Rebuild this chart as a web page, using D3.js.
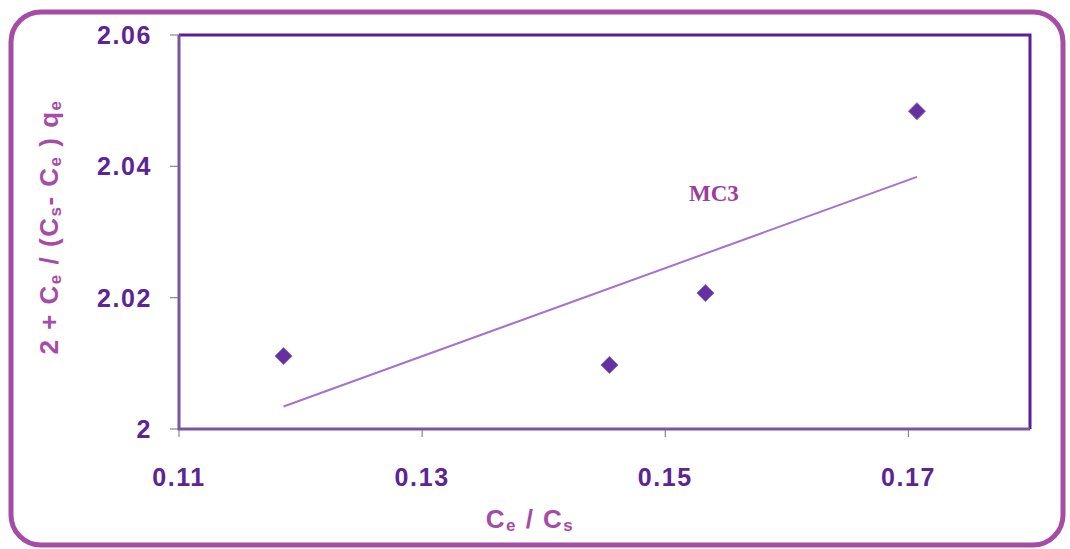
<!DOCTYPE html>
<meta charset="utf-8">
<style>
    body { margin: 0; background: #fff; }
    .tick-label { font-family: Arial, "Liberation Sans", sans-serif; font-weight: bold; font-size: 25px; letter-spacing: 1.6px; fill: #5c2494; }
    .axis-title { font-family: Arial, "Liberation Sans", sans-serif; font-weight: bold; font-size: 26px; letter-spacing: 1.5px; fill: #a64ca6; }
    .series-label { font-family: "Liberation Serif", "Times New Roman", serif; font-weight: bold; font-size: 23px; fill: #9b3d9b; }
</style>
<body>
<script src="https://d3js.org/d3.v7.min.js"></script>
<script>

// Data
var xValues = [0.1186, 0.1454, 0.1533, 0.1707];
var yValues = [2.0111, 2.00975, 2.0207, 2.0484];
var xTicks = [0.11, 0.13, 0.15, 0.17];
var yTicks = [2, 2.02, 2.04, 2.06];
var seriesName = "MC3";

var width = 1070, height = 549;
var plot = {left: 179, top: 35, right: 1030, bottom: 429};

var svg = d3.select("body").append("svg")
    .attr("width", width).attr("height", height);

// outer rounded frame
svg.append("rect")
    .attr("x", 11).attr("y", 12)
    .attr("width", 1052).attr("height", 533)
    .attr("rx", 30).attr("ry", 30)
    .attr("fill", "none")
    .attr("stroke", "#a64ca6")
    .attr("stroke-width", 5);

var x = d3.scaleLinear().domain([0.11, 0.18]).range([plot.left, plot.right]);
var y = d3.scaleLinear().domain([2, 2.06]).range([plot.bottom, plot.top]);

// tick marks
svg.selectAll(".xtick").data(xTicks).enter().append("line")
    .attr("x1", function(d) { return x(d); }).attr("x2", function(d) { return x(d); })
    .attr("y1", plot.bottom).attr("y2", plot.bottom + 8)
    .attr("stroke", "#888").attr("stroke-width", 1.2);

svg.selectAll(".ytick").data(yTicks).enter().append("line")
    .attr("x1", plot.left - 9).attr("x2", plot.left)
    .attr("y1", function(d) { return y(d); }).attr("y2", function(d) { return y(d); })
    .attr("stroke", "#888").attr("stroke-width", 1.2);

// plot frame: top/right darker, left/bottom greyish purple
svg.append("path")
    .attr("d", "M" + plot.left + "," + plot.top + "H" + plot.right + "V" + plot.bottom)
    .attr("fill", "none").attr("stroke", "#5a1e98").attr("stroke-width", 3);
svg.append("path")
    .attr("d", "M" + plot.left + "," + plot.top + "V" + plot.bottom + "H" + plot.right)
    .attr("fill", "none").attr("stroke", "#7a56a0").attr("stroke-width", 3);

// tick labels
svg.selectAll(".xlab").data(xTicks).enter().append("text")
    .attr("class", "tick-label")
    .attr("x", function(d) { return x(d); })
    .attr("y", 486)
    .attr("text-anchor", "middle")
    .text(function(d) { return d3.format(".2f")(d); });

svg.selectAll(".ylab").data(yTicks).enter().append("text")
    .attr("class", "tick-label")
    .attr("x", 152)
    .attr("y", function(d) { return y(d) + 9; })
    .attr("text-anchor", "end")
    .text(function(d) { return d === 2 ? "2" : d3.format(".2f")(d); });

// axis titles
var xt = svg.append("text").attr("class", "axis-title")
    .attr("x", 530).attr("y", 528).attr("text-anchor", "middle");
xt.append("tspan").text("C");
xt.append("tspan").attr("font-size", "17px").attr("dy", 3).text("e");
xt.append("tspan").attr("dy", -3).text(" / C");
xt.append("tspan").attr("font-size", "17px").attr("dy", 3).text("s");

var yt = svg.append("text").attr("class", "axis-title")
    .attr("transform", "translate(58,227) rotate(-90)")
    .attr("text-anchor", "middle");
yt.append("tspan").text("2 + C");
yt.append("tspan").attr("font-size", "17px").attr("dy", 3).text("e");
yt.append("tspan").attr("dy", -3).text(" / (C");
yt.append("tspan").attr("font-size", "17px").attr("dy", 3).text("s");
yt.append("tspan").attr("dy", -3).text("- C");
yt.append("tspan").attr("font-size", "17px").attr("dy", 3).text("e");
yt.append("tspan").attr("dy", -3).text(" ) q");
yt.append("tspan").attr("font-size", "17px").attr("dy", 3).text("e");

// least-squares trend line over the data range
var mx = d3.mean(xValues), my = d3.mean(yValues);
var sxy = d3.sum(xValues, function(v, i) { return (v - mx) * (yValues[i] - my); });
var sxx = d3.sum(xValues, function(v) { return (v - mx) * (v - mx); });
var slope = sxy / sxx, intercept = my - slope * mx;
var xr = d3.extent(xValues);

svg.append("line")
    .attr("x1", x(xr[0])).attr("y1", y(intercept + slope * xr[0]))
    .attr("x2", x(xr[1])).attr("y2", y(intercept + slope * xr[1]))
    .attr("stroke", "#a473cc").attr("stroke-width", 2);

// diamond markers
var points = xValues.map(function(v, i) { return [v, yValues[i]]; });
svg.selectAll(".pt").data(points).enter().append("path")
    .attr("d", "M0,-8.5L8.5,0L0,8.5L-8.5,0Z")
    .attr("transform", function(d) { return "translate(" + x(d[0]) + "," + y(d[1]) + ")"; })
    .attr("fill", "#6630a2")
    .attr("stroke", "#7f6ac0").attr("stroke-width", 1);

svg.append("text").attr("class", "series-label")
    .attr("x", 689).attr("y", 201)
    .text(seriesName);

</script>
</body>
